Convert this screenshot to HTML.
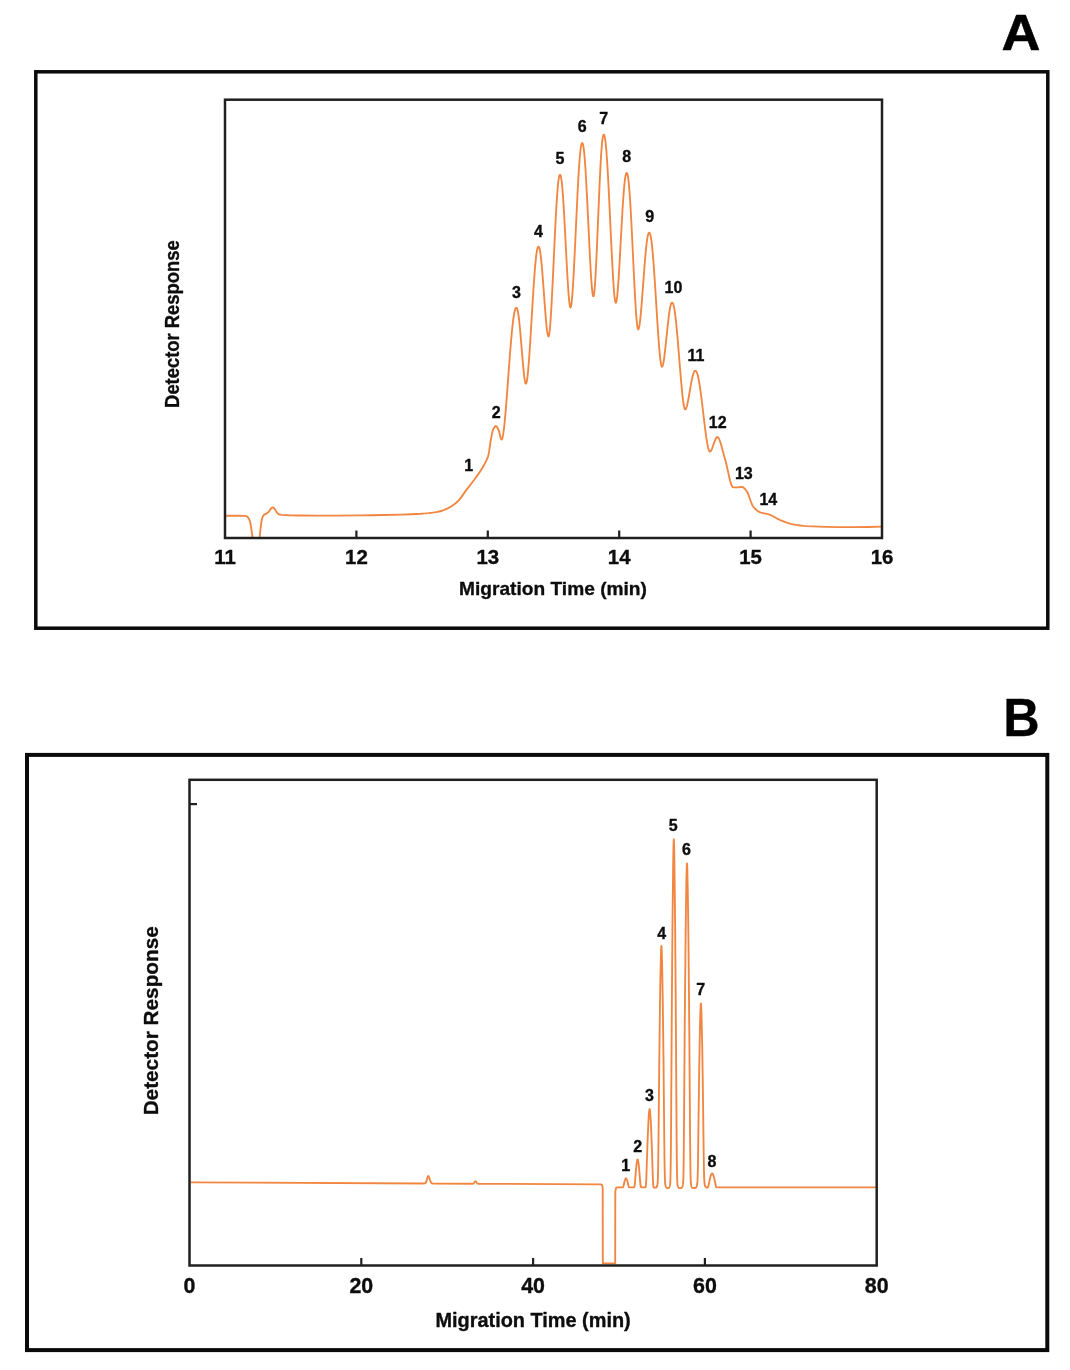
<!DOCTYPE html>
<html lang="en"><head><meta charset="utf-8"><title>Electropherograms A and B</title>
<style>html,body{margin:0;padding:0;background:#fff}svg{display:block;will-change:transform}text{font-family:'Liberation Sans', Arial, Helvetica, sans-serif;font-weight:700;fill:#0d0d0d;stroke:#0d0d0d;stroke-width:.35px;stroke-linejoin:round}</style></head><body>
<svg width="1070" height="1370" viewBox="0 0 1070 1370">
<rect width="1070" height="1370" fill="#fff"/>
<g id="panelA">
<text transform="translate(1020.9 49.9) scale(1.07 1)" font-size="50.4" text-anchor="middle" style="fill:#000;stroke:#000;stroke-width:0.6px">A</text>
<rect x="35.8" y="71.8" width="1012" height="556.4" fill="none" stroke="#0a0a0a" stroke-width="3.5"/>
<path d="M226 515.7L238 515.71L244 515.8L245 515.92L246 516.19L247 516.6L247.5 516.97L248.5 518.07L249 518.88L249.5 520.08L250 521.6L250.5 523.74L251 526.5L252.6 538M259.6 538L261.1 523.67L261.6 520.71L262.1 518.45L262.6 517L263.1 515.96L263.6 515.21L264.1 514.75L264.6 514.41L266.6 513.4L267.6 512.76L268.6 511.99L269.1 511.44L270.6 509.02L271.6 508.03L272.1 507.64L272.6 507.42L273.1 507.46L273.6 507.75L274.6 508.78L275.1 509.4L276.6 512.14L277.6 513.28L278.6 514.13L279.1 514.37L279.6 514.49L281.6 514.8L288.6 515.29L291.6 515.39L299.1 515.49L317.1 515.6L336.1 515.56L360.6 515.4L371.6 515.26L384.1 515.01L401.6 514.56L411.1 514.24L421.1 513.73L425.1 513.43L428.6 513.08L432.6 512.59L436.1 512.06L439.1 511.52L441.1 511.01L443.6 510.14L446.1 509.08L449.1 507.65L451.1 506.5L453.6 504.81L455.6 503.26L457.6 501.52L459.1 499.93L461.1 497.39L466.6 489.63L474.1 480.03L478.1 474.39L480.6 470.67L482.6 467.46L484.6 463.93L486.6 460.06L487.6 457.71L488.1 456.23L488.6 454.23L489.1 451.42L490.6 441.3L492.1 433.17L492.6 431.07L493.1 429.75L493.6 428.66L494.1 427.69L494.6 426.9L495.1 426.32L495.6 426.03L496.1 426.07L496.6 426.47L497.1 427.14L497.6 428.01L498.6 430L499.1 431.44L500.6 437.78L501.1 439.2L501.6 439.58L502.1 438.86L502.6 437.19L503.1 434.65L503.6 431.33L504.1 427.3L504.6 422.65L505.6 411.82L507.1 392.87L510.1 352.55L511.1 340.36L512.1 329.6L513.1 320.68L513.6 317.02L514.1 313.95L514.6 311.48L515.1 309.65L515.6 308.45L516.1 307.88L516.6 307.85L517.1 308.54L517.6 310.13L518.1 312.6L518.6 315.91L519.1 319.98L520.1 330L523.1 365.7L524.1 375.46L524.6 379.19L525.1 381.91L525.6 383.44L526.1 383.58L526.6 382.26L527.1 379.61L527.6 375.78L528.1 370.9L529.1 358.58L530.1 343.74L533.6 286.65L534.6 272.66L535.1 266.56L536.1 256.55L536.6 252.78L537.1 249.91L537.6 247.96L538.1 246.92L538.6 246.71L539.1 247.27L539.6 248.76L540.1 251.21L540.6 254.58L541.1 258.8L542.1 269.39L543.1 282.09L545.1 309.44L546.1 321.6L546.6 326.71L547.1 330.93L547.6 334.1L548.1 336L548.6 336.46L549.1 335L549.6 331.64L550.1 326.59L550.6 320.1L551.6 303.61L552.6 283.84L555.1 230.46L556.1 211.3L556.6 202.84L557.6 188.81L558.1 183.48L558.6 179.39L559.1 176.6L559.6 175.12L560.1 174.82L560.6 175.55L561.1 177.55L561.6 180.83L562.1 185.35L562.6 191.03L563.1 197.76L564.1 213.82L567.1 270.69L568.1 287.39L568.6 294.35L569.1 300.09L569.6 304.36L570.1 306.93L570.6 307.56L571.1 306.12L571.6 302.81L572.1 297.84L572.6 291.42L573.1 283.78L573.6 275.1L574.6 255.48L577.6 191.97L578.6 173.84L579.6 159.19L580.1 153.48L580.6 148.96L581.1 145.71L581.6 143.74L582.1 143.02L582.6 143.32L583.1 144.81L583.6 147.6L584.1 151.7L584.6 157.02L585.6 171L587.1 198.35L590.1 260.04L591.1 277.14L591.6 284.1L592.1 289.72L592.6 293.77L593.1 296.02L593.6 296.19L594.1 293.88L594.6 289.31L595.1 282.78L595.6 274.59L596.6 254.44L599.6 183.84L600.6 163.64L601.1 155.15L601.6 147.97L602.1 142.24L602.6 138.09L603.1 135.56L603.6 134.62L604.1 134.89L604.6 136.28L605.1 138.89L605.6 142.73L606.1 147.75L606.6 153.88L607.6 169.08L608.6 187.45L611.6 250.43L613.1 278.36L613.6 285.96L614.1 292.4L614.6 297.47L615.1 300.99L615.6 302.74L616.1 302.56L616.6 300.55L617.1 296.94L617.6 291.94L618.1 285.75L618.6 278.58L619.6 262.08L621.6 225.68L622.6 208.55L623.6 193.8L624.1 187.65L624.6 182.47L625.1 178.36L625.6 175.38L626.1 173.58L626.6 172.91L627.1 173.21L627.6 174.64L628.1 177.35L628.6 181.31L629.1 186.47L630.1 200.05L630.6 208.25L631.6 226.81L634.1 278.5L635.1 297.64L636.1 313.62L636.6 319.91L637.1 324.79L637.6 328.05L638.1 329.46L638.6 329.06L639.1 327.34L639.6 324.49L640.1 320.64L640.6 315.94L641.6 304.61L645.1 258.8L646.1 247.98L646.6 243.48L647.1 239.69L647.6 236.69L648.1 234.51L648.6 233.2L649.1 232.71L649.6 232.91L650.1 233.89L650.6 235.74L651.1 238.46L651.6 242.03L652.6 251.53L653.1 257.33L654.1 270.66L655.1 285.7L657.6 325.59L659.1 346.62L660.1 357.43L660.6 361.49L661.1 364.47L661.6 366.25L662.1 366.68L662.6 365.93L663.1 364.23L663.6 361.7L664.1 358.47L665.1 350.41L668.1 321.93L669.1 313.82L669.6 310.43L670.1 307.59L670.6 305.36L671.1 303.78L671.6 302.87L672.1 302.6L672.6 302.85L673.1 303.73L673.6 305.27L674.1 307.47L674.6 310.31L675.6 317.78L676.6 327.3L677.6 338.4L680.6 375.47L682.1 392.11L683.1 400.88L683.6 404.28L684.1 406.9L684.6 408.63L685.1 409.38L685.6 409.19L686.1 408.39L686.6 407.05L687.1 405.27L687.6 403.11L688.6 397.96L690.6 386.32L691.6 380.88L692.6 376.29L693.1 374.45L693.6 372.95L694.1 371.84L694.6 371.13L695.1 370.82L695.6 370.85L696.1 371.22L696.6 371.98L697.1 373.16L697.6 374.73L698.1 376.69L698.6 379.03L699.6 384.71L700.6 391.54L701.6 399.25L704.6 424.51L706.1 436.14L707.1 442.64L707.6 445.36L708.1 447.66L708.6 449.48L709.1 450.77L709.6 451.48L710.1 451.57L710.6 451.23L711.1 450.57L711.6 449.64L712.1 448.5L714.6 441.41L715.6 438.96L716.1 438.03L716.6 437.37L717.1 437.03L717.6 437.06L718.1 437.43L718.6 438.09L719.1 439.02L720.1 441.55L721.6 446.55L724.1 455.99L725.6 461.1L726.1 463.03L727.1 467.34L729.1 476.57L730.1 480.75L731.1 484.16L731.6 485.46L732.1 486.43L732.6 487.03L733.1 487.21L734.6 487.31L738.1 487.38L741.1 487.04L742.1 487L742.6 487.1L743.1 487.34L744.1 488.11L745.1 489.19L746.6 491.03L747.1 491.81L747.6 492.79L748.6 495.22L751.1 502.28L752.1 504.71L752.6 505.69L753.1 506.47L753.6 507.08L755.1 508.75L756.6 510.15L758.1 511.27L759.6 512.08L761.1 512.61L763.1 513.12L767.1 513.91L768.6 514.31L769.6 514.65L772.1 515.78L777.1 518.55L779.6 519.79L786.1 522.36L788.6 523.23L790.6 523.82L793.1 524.41L796.1 524.92L800.1 525.48L803.6 525.85L806.6 526.08L813.1 526.42L825.6 526.94L837.1 527.18L854.6 527.18L868.6 527.03L881 526.7" fill="none" stroke="#F18641" stroke-width="1.85" stroke-linejoin="round"/>
<rect x="225" y="99.7" width="657" height="438.3" fill="none" stroke="#202020" stroke-width="2.5"/>
<text x="225" y="564.4" font-size="20.4" text-anchor="middle">11</text>
<line x1="356.4" y1="538" x2="356.4" y2="530.5" stroke="#202020" stroke-width="2.2"/>
<text x="356.4" y="564.4" font-size="20.4" text-anchor="middle">12</text>
<line x1="487.8" y1="538" x2="487.8" y2="530.5" stroke="#202020" stroke-width="2.2"/>
<text x="487.8" y="564.4" font-size="20.4" text-anchor="middle">13</text>
<line x1="619.2" y1="538" x2="619.2" y2="530.5" stroke="#202020" stroke-width="2.2"/>
<text x="619.2" y="564.4" font-size="20.4" text-anchor="middle">14</text>
<line x1="750.6" y1="538" x2="750.6" y2="530.5" stroke="#202020" stroke-width="2.2"/>
<text x="750.6" y="564.4" font-size="20.4" text-anchor="middle">15</text>
<text x="882" y="564.4" font-size="20.4" text-anchor="middle">16</text>
<text x="553" y="595.1" font-size="19.15" text-anchor="middle">Migration Time (min)</text>
<text transform="translate(179.2 324.1) rotate(-90) scale(0.872 1)" font-size="21.1" text-anchor="middle">Detector Response</text>
<text x="468.6" y="471.4" font-size="16" text-anchor="middle">1</text>
<text x="496.2" y="417.5" font-size="16" text-anchor="middle">2</text>
<text x="516.4" y="298.4" font-size="16" text-anchor="middle">3</text>
<text x="538.5" y="237.3" font-size="16" text-anchor="middle">4</text>
<text x="560" y="163.9" font-size="16" text-anchor="middle">5</text>
<text x="582.2" y="132.1" font-size="16" text-anchor="middle">6</text>
<text x="603.7" y="124" font-size="16" text-anchor="middle">7</text>
<text x="626.7" y="161.9" font-size="16" text-anchor="middle">8</text>
<text x="649.6" y="222.2" font-size="16" text-anchor="middle">9</text>
<text x="673.5" y="293.4" font-size="16" text-anchor="middle">10</text>
<text x="696" y="361.3" font-size="16" text-anchor="middle">11</text>
<text x="717.7" y="428.1" font-size="16" text-anchor="middle">12</text>
<text x="743.8" y="478.5" font-size="16" text-anchor="middle">13</text>
<text x="768.3" y="504.6" font-size="16" text-anchor="middle">14</text>
</g>
<g id="panelB">
<text transform="translate(1021.35 736.3) scale(0.93 1)" font-size="54.2" text-anchor="middle" style="fill:#000">B</text>
<rect x="27" y="754.9" width="1020.3" height="595.2" fill="none" stroke="#0a0a0a" stroke-width="4.0"/>
<path d="M190.5 1182.3L423.5 1183.48L424.5 1183.41L425 1183.25L425.5 1182.87L426 1182.12L426.5 1180.89L427.5 1177.53L428 1176.26L428.5 1175.94L429 1176.68L430.5 1181.46L431 1182.5L431.5 1183.09L432 1183.37L433 1183.52L472.5 1183.73L473 1183.69L473.5 1183.52L474 1183.1L475 1181.52L475.5 1181.15L476 1181.53L477 1183.11L477.5 1183.54L478 1183.71L478.5 1183.76L601 1184.39L601 1184.4L602.2 1185L602.7 1188L602.8 1263.4L615.2 1263.4L615.3 1192L615.9 1188.2L617.5 1187.4L617.5 1187.4L622.4 1187.4L622.8 1187.33L623 1187.19L623.3 1186.64L623.5 1185.99L624.4 1182.05L625 1179.94L625.5 1178.75L625.8 1178.38L626 1178.3L626.2 1178.38L626.5 1178.75L627 1179.94L627.6 1182.05L628.5 1185.99L628.7 1186.64L629 1187.19L629.3 1187.37L629.8 1187.4L633.7 1187.4L634 1187.35L634.2 1187.21L634.4 1186.81L634.5 1186.44L634.8 1184.37L635.9 1170.73L636.6 1163.85L637.1 1160.63L637.4 1159.61L637.6 1159.4L637.8 1159.61L638.1 1160.63L638.4 1162.37L638.7 1164.68L639.3 1170.73L640.3 1183.36L640.5 1185.23L640.8 1186.81L641 1187.22L641.2 1187.36L641.4 1187.4L645.1 1187.43L645.4 1187.36L645.6 1187.1L645.8 1186.34L646 1184.55L646.3 1179.09L647.5 1142.99L648.3 1123.86L648.7 1116.76L649 1112.72L649.3 1110.06L649.5 1109.22L649.6 1109.11L649.7 1109.22L649.9 1110.07L650.2 1112.75L650.6 1118.41L651 1125.98L651.8 1145.91L652.8 1176.7L653.1 1183.31L653.3 1185.8L653.5 1187.02L653.6 1187.32L653.8 1187.58L654.1 1187.66L654.8 1187.69L655.8 1187.62L656.3 1187.35L656.7 1186.83L657.1 1185.87L657.4 1184.7L657.7 1182.27L657.9 1178.48L658.2 1165.39L658.5 1140.79L659.3 1058.91L660 1003.09L660.4 978.62L660.8 959.51L661.1 949.61L661.3 946.27L661.4 945.84L661.5 946.28L661.7 949.63L662 959.56L662.4 978.71L662.8 1003.23L663.5 1059.2L664.4 1150.62L664.6 1165.88L664.9 1178.97L665.1 1182.75L665.3 1184.58L665.7 1186.29L666 1187.02L666.3 1187.49L666.7 1187.83L667.3 1188.02L668.2 1188.01L668.8 1187.8L669.2 1187.39L669.5 1186.84L669.8 1186.01L670 1185.16L670.3 1182.33L670.5 1177.32L670.8 1158.7L671.1 1122.05L671.9 996.46L672.5 922.28L673.2 861.46L673.5 845.39L673.7 840L673.8 839.3L673.9 840L674.1 845.39L674.4 861.46L675.1 922.29L675.7 996.47L676.6 1136.14L676.9 1166.83L677.1 1177.33L677.3 1182.34L677.6 1185.17L677.9 1186.34L678.3 1187.25L678.7 1187.74L679.1 1187.97L679.7 1188.08L680.8 1188.07L681.3 1187.98L681.7 1187.76L682 1187.45L682.3 1186.92L682.7 1185.77L683 1184.18L683.2 1181.85L683.4 1176.76L683.6 1166.56L683.8 1149.48L684.8 1018.54L685.6 936.44L686 905.42L686.4 881.05L686.7 868.35L686.9 864.06L687 863.5L687.1 864.06L687.3 868.36L687.7 886.49L688.1 912.59L688.5 945.33L689.1 1007.04L690.1 1138.75L690.4 1166.94L690.6 1177.12L690.8 1182.19L691.1 1185.12L691.4 1186.32L691.8 1187.23L692.1 1187.62L692.4 1187.85L692.7 1187.96L693.2 1188.03L695.2 1187.97L695.7 1187.8L696.1 1187.47L696.6 1186.56L697 1185.25L697.3 1183.45L697.5 1180.97L697.8 1172.4L698 1161.77L699 1082.93L699.7 1040.11L700.1 1021.99L700.4 1011.54L700.7 1004.87L700.8 1003.82L700.9 1003.47L701 1003.82L701.2 1006.54L701.5 1014.64L702.2 1045.26L702.8 1082.79L703.7 1154.74L704 1172.18L704.2 1178.71L704.5 1183.19L704.7 1184.51L705 1185.7L705.3 1186.49L705.7 1187.14L706 1187.39L706.3 1187.53L707.3 1187.61L707.6 1187.57L707.8 1187.47L708.1 1187.03L708.5 1185.61L709.8 1179.22L710.5 1176.51L711 1175L711.4 1174.09L711.8 1173.52L712.1 1173.37L712.4 1173.51L712.7 1173.89L713.1 1174.71L713.5 1175.81L714 1177.51L714.5 1179.56L715.9 1186.28L716.1 1186.86L716.3 1187.2L716.5 1187.35L716.8 1187.41L875.7 1187.4" fill="none" stroke="#F18641" stroke-width="1.85" stroke-linejoin="round"/>
<rect x="189.5" y="779.8" width="687.2" height="485.7" fill="none" stroke="#202020" stroke-width="2.5"/>
<text x="189.5" y="1293.2" font-size="21.4" text-anchor="middle">0</text>
<line x1="361.3" y1="1265.5" x2="361.3" y2="1258" stroke="#202020" stroke-width="2.2"/>
<text x="361.3" y="1293.2" font-size="21.4" text-anchor="middle">20</text>
<line x1="533.1" y1="1265.5" x2="533.1" y2="1258" stroke="#202020" stroke-width="2.2"/>
<text x="533.1" y="1293.2" font-size="21.4" text-anchor="middle">40</text>
<line x1="704.9" y1="1265.5" x2="704.9" y2="1258" stroke="#202020" stroke-width="2.2"/>
<text x="704.9" y="1293.2" font-size="21.4" text-anchor="middle">60</text>
<text x="876.7" y="1293.2" font-size="21.4" text-anchor="middle">80</text>
<line x1="189.5" y1="804.1" x2="197" y2="804.1" stroke="#202020" stroke-width="2.2"/>
<text x="533.1" y="1327.4" font-size="19.9" text-anchor="middle">Migration Time (min)</text>
<text transform="translate(158.3 1020.8) rotate(-90)" font-size="20.75" text-anchor="middle">Detector Response</text>
<text x="625.7" y="1171.3" font-size="16" text-anchor="middle">1</text>
<text x="637.7" y="1152" font-size="16" text-anchor="middle">2</text>
<text x="649.5" y="1101" font-size="16" text-anchor="middle">3</text>
<text x="661.8" y="938.8" font-size="16" text-anchor="middle">4</text>
<text x="673.3" y="831.1" font-size="16" text-anchor="middle">5</text>
<text x="686.4" y="855" font-size="16" text-anchor="middle">6</text>
<text x="700.6" y="995.2" font-size="16" text-anchor="middle">7</text>
<text x="711.9" y="1166.9" font-size="16" text-anchor="middle">8</text>
</g>
</svg></body></html>
